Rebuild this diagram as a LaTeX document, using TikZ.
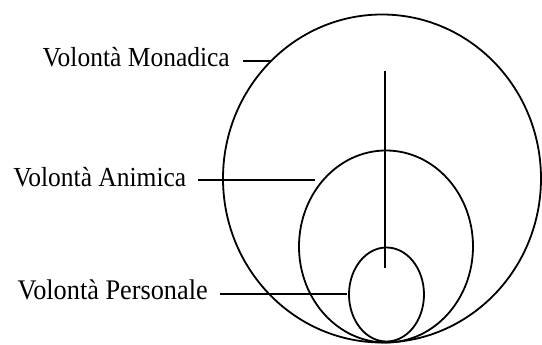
\documentclass[tikz,border=0pt]{standalone}
\usepackage{fontspec}
\setmainfont{Liberation Serif}
\newcommand{\tall}[1]{\scalebox{1}[1.08]{#1}}
\begin{document}
\begin{tikzpicture}[x=1pt,y=-1pt,
  lbl/.style={inner sep=0pt,anchor=base east,font=\fontsize{25.5}{28}\selectfont},
  ln/.style={line width=1.8pt,black},
  ring/.style={line width=1.8pt,black}]
\useasboundingbox (0,0) rectangle (542,345);
% shapes
\draw[ring] (382,178.5) ellipse [x radius=159, y radius=164];
\draw[ring] (386,246.5) ellipse [x radius=87, y radius=96];
\draw[ring] (386.5,294.5) ellipse [x radius=37.5, y radius=47];
% labels
\node[lbl] (tm) at (230,66.5) {\tall{Volontà Monadica}};
\node[lbl] (ta) at (186.5,186) {\tall{Volontà Animica}};
\node[lbl,font=\fontsize{26.3}{29}\selectfont] (tp) at (208,299.5) {\tall{Volontà Personale}};
% leader endpoints
\coordinate (m1) at (243,61);  \coordinate (m2) at (271,61);
\coordinate (a1) at (198,180); \coordinate (a2) at (315,180);
\coordinate (p1) at (220,294); \coordinate (p2) at (347,294);
\coordinate (v1) at (385,71);  \coordinate (v2) at (385,268);
\draw[ln] (m1) -- (m2);
\draw[ln] (a1) -- (a2);
\draw[ln] (p1) -- (p2);
\draw[ln] (v1) -- (v2);
\end{tikzpicture}
\end{document}
